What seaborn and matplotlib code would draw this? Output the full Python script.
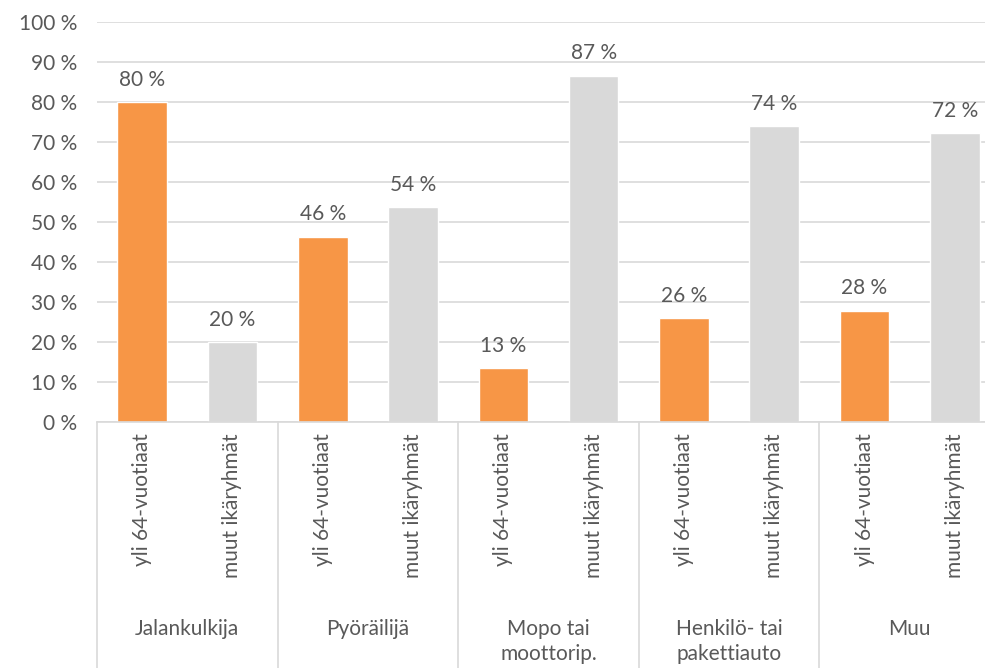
import numpy as np
import pandas as pd
import matplotlib
matplotlib.use('Agg')
import matplotlib.pyplot as plt
import seaborn as sns

# data
groups = ['Jalankulkija', 'Pyöräilijä', 'Mopo tai\nmoottorip.', 'Henkilö- tai\npakettiauto', 'Muu']
age_groups = ['yli 64-vuotiaat', 'muut ikäryhmät']
older = [80, 46.3, 13.4, 26, 27.8]
others = [20, 53.7, 86.6, 74, 72.2]

records = []
for i, g in enumerate(groups):
    records.append({'slot': f'{i}a', 'ika': age_groups[0], 'osuus': older[i]})
    records.append({'slot': f'{i}b', 'ika': age_groups[1], 'osuus': others[i]})
df = pd.DataFrame(records)

sns.set_theme(style='white')
plt.rcParams['font.family'] = ['Lato', 'DejaVu Sans']
txt = '#595959'
grid_c = '#D9D9D9'
fs = 15

fig = plt.figure(figsize=(9.85, 6.68), dpi=100)
ax = fig.add_axes([97 / 985, (668 - 422) / 668, 903 / 985, 400 / 668])

sns.barplot(data=df, x='slot', y='osuus', hue='ika', dodge=False, width=0.55,
            palette={age_groups[0]: '#F79646', age_groups[1]: '#D9D9D9'},
            saturation=1, legend=False, ax=ax)

for cont in ax.containers:
    labels = [f'{v:.0f} %' if v > 0 else '' for v in cont.datavalues]
    ax.bar_label(cont, labels=labels, padding=9, fontsize=fs, color=txt)

ax.set_ylim(0, 100)
ax.set_xlim(-0.5, 9.5)
ax.set_yticks(np.arange(0, 101, 10))
ax.set_yticklabels([f'{t} %' for t in range(0, 101, 10)])
ax.yaxis.grid(True, color=grid_c, linewidth=1.2)
ax.set_axisbelow(True)
ax.set_xlabel('')
ax.set_ylabel('')

ax.set_xticks(range(10))
ax.set_xticklabels([age_groups[k % 2] for k in range(10)], rotation=90)
ax.tick_params(axis='x', length=0, pad=8, labelsize=fs, labelcolor=txt)
ax.tick_params(axis='y', length=0, pad=14, labelsize=fs, labelcolor=txt)

for s in ['top', 'right', 'left']:
    ax.spines[s].set_visible(False)
ax.spines['bottom'].set_color(grid_c)
ax.spines['bottom'].set_linewidth(1.2)

# multi-level category axis: separators and group labels
trans = ax.get_xaxis_transform()
for xb in np.arange(-0.5, 10, 2):
    ax.plot([xb, xb], [0, -0.62], transform=trans, color=grid_c, lw=1.2, clip_on=False)
for i, g in enumerate(groups):
    ax.text(2 * i + 0.5, -0.493, g, transform=trans, ha='center', va='top',
            fontsize=fs, color=txt, linespacing=1.3)

fig.savefig('out.png', dpi=100)
